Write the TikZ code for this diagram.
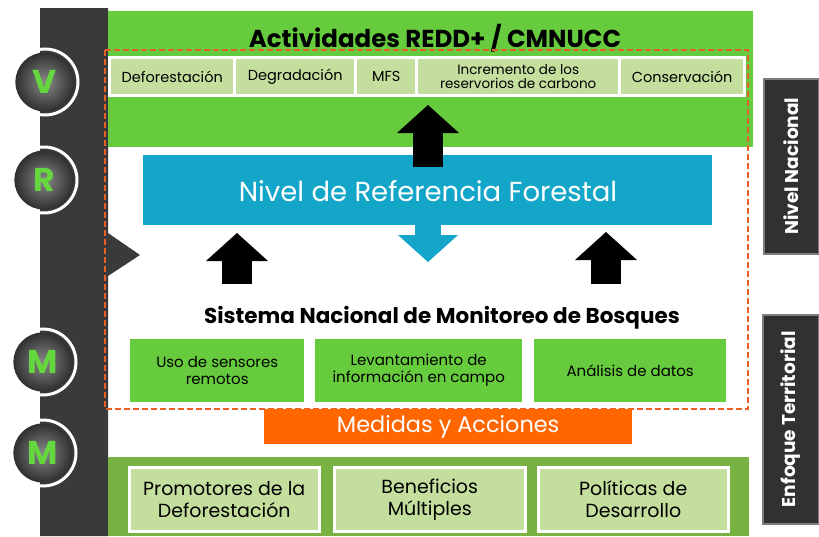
\documentclass[tikz,border=0pt]{standalone}
\usepackage{fontspec}
\setmainfont{Poppins}
\usetikzlibrary{arrows.meta,shadings}
\definecolor{topgreen}{RGB}{102,204,62}
\definecolor{cellgreen}{RGB}{196,222,158}
\definecolor{botgreen}{RGB}{120,178,66}
\definecolor{nrfblue}{RGB}{20,166,200}
\definecolor{orng}{RGB}{255,102,0}
\definecolor{dashorng}{RGB}{232,96,40}
\definecolor{darkbar}{RGB}{58,58,58}
\definecolor{lettergreen}{RGB}{100,214,62}
\definecolor{lblborder}{RGB}{125,125,125}
\tikzset{
  cell/.style={fill=cellgreen,inner sep=0pt,anchor=north west,align=center,font=\fontsize{14.5}{15}\selectfont,text=black},
  gbox/.style={fill=topgreen,inner sep=0pt,anchor=north west,align=center,font=\fontsize{15}{17}\selectfont,text=black},
  bbox/.style={fill=cellgreen,draw=white,line width=2.5pt,inner sep=0pt,anchor=north west,align=center,font=\fontsize{19}{22}\selectfont,text=black},
  lbl/.style={fill=darkbar!85!black,draw=lblborder,line width=1.5pt,inner sep=0pt,anchor=north west},
  lbltext/.style={rotate=90,text=white,font=\bfseries\fontsize{18.5}{20}\selectfont},
  blkarrow/.style={line width=30pt,line cap=butt,-{Triangle[length=28pt,width=62pt,line width=0pt]}},
  bluearrow/.style={draw=nrfblue,line width=26pt,line cap=butt,-{Triangle[length=27pt,width=60pt,line width=0pt]}},
  circ/.style={circle,minimum size=58pt,inner sep=0pt,inner color=darkbar!60,outer color=darkbar!85!black,draw=black!80,line width=1.2pt,text=lettergreen,font=\bfseries\fontsize{33}{33}\selectfont},
  ring/.style={draw=white,line width=3pt},
}
\begin{document}
\begin{tikzpicture}[x=1pt,y=-1pt]
\useasboundingbox (0,0) rectangle (819,536);
% left dark bar with notch
\fill[darkbar] (40,8) -- (108,8) -- (108,233) -- (140,255) -- (108,276) -- (108,536) -- (40,536) -- cycle;
% top green band
\node[fill=topgreen,inner sep=0pt,anchor=north west,minimum width=645pt,minimum height=136pt] (top) at (108,11) {};
\node[font=\bfseries\fontsize{24.5}{26}\selectfont] (title) at (435,38) {Actividades REDD+ / CMNUCC};
% cells
\fill[white] (108,56) rectangle (746,97);
\node[cell,minimum width=122pt,minimum height=35pt] (c1) at (111,59) {Deforestación};
\node[cell,minimum width=118pt,minimum height=35pt] (c2) at (236,59) {Degradación};
\node[cell,minimum width=58pt,minimum height=35pt] (c3) at (357,59) {MFS};
\node[cell,minimum width=200pt,minimum height=35pt,font=\fontsize{13.5}{14}\selectfont] (c4) at (418,59) {Incremento de los\\reservorios de carbono};
\node[cell,minimum width=122pt,minimum height=35pt] (c5) at (621,59) {Conservación};
% blue box
\node[fill=nrfblue,inner sep=0pt,anchor=north west,minimum width=569pt,minimum height=70pt] (nrf) at (143,155) {};
\node[text=white,font=\fontsize{27.5}{30}\selectfont] (nrft) at (428,191) {Nivel de Referencia Forestal};
% arrows
\coordinate (a0s) at (428,225);
\coordinate (a0e) at (428,262);
\draw[bluearrow] (a0s) -- (a0e);
\coordinate (a1s) at (428,167);
\coordinate (a1e) at (428,105);
\draw[blkarrow] (a1s) -- (a1e);
\coordinate (a2s) at (237,284);
\coordinate (a2e) at (237,233);
\draw[blkarrow] (a2s) -- (a2e);
\coordinate (a3s) at (606,284);
\coordinate (a3e) at (606,232);
\draw[blkarrow] (a3s) -- (a3e);
% SNMB
\node[font=\bfseries\fontsize{21.5}{23}\selectfont] (snmb) at (442,318) {Sistema Nacional de Monitoreo de Bosques};
\node[gbox,minimum width=174pt,minimum height=63pt] (g1) at (130,339) {Uso de sensores\\remotos};
\node[gbox,minimum width=207pt,minimum height=63pt] (g2) at (315,339) {Levantamiento de\\información en campo};
\node[gbox,minimum width=192pt,minimum height=63pt] (g3) at (534,339) {Análisis de datos};
% dashed frame
\draw[dashorng,line width=2pt,dash pattern=on 6pt off 3pt] (105,50) rectangle (748,409);
% orange box
\node[fill=orng,inner sep=0pt,anchor=north west,minimum width=368pt,minimum height=35pt,text=white,font=\fontsize{22.4}{24}\selectfont] (med) at (264,409) {Medidas y Acciones};
% bottom band
\node[fill=botgreen,inner sep=0pt,anchor=north west,minimum width=641pt,minimum height=79pt] (bot) at (108,457) {};
\node[bbox,minimum width=190pt,minimum height=64pt] (b1) at (128,466) {Promotores de la\\Deforestación};
\node[bbox,minimum width=191pt,minimum height=64pt] (b2) at (333,466) {Beneficios\\Múltiples};
\node[bbox,minimum width=190pt,minimum height=64pt] (b3) at (537,466) {Políticas de\\Desarrollo};
% right labels
\node[lbl,minimum width=55pt,minimum height=175pt] (nn) at (763,78) {};
\node[lbltext] (nnt) at (nn.center) {Nivel Nacional};
\node[lbl,minimum width=56pt,minimum height=209pt] (et) at (762,314) {};
\node[lbltext] (ett) at (et.center) {Enfoque Territorial};
% circles
\foreach \n/\l/\xx/\yy in {cv/V/45/82, cr/R/44/180, cm1/M/43/362, cm2/M/43/453}{
  \draw[ring] (\xx,\yy) circle[radius=33];
  \node[circ] (\n) at (\xx,\yy) {\l};
}
\end{tikzpicture}
\end{document}
